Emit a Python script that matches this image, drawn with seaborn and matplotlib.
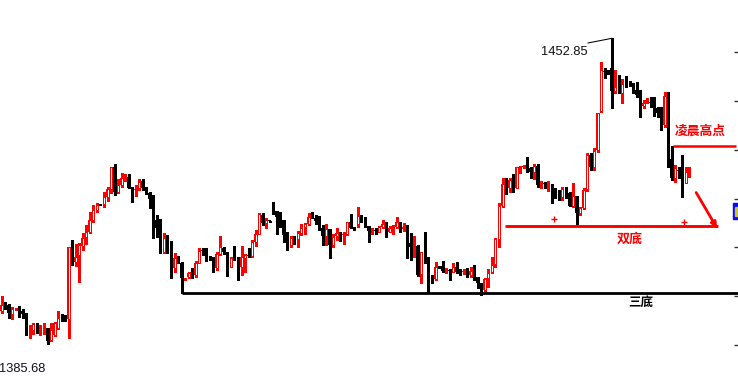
import numpy as np
import pandas as pd
import seaborn as sns
import matplotlib.pyplot as plt
from matplotlib.patches import Rectangle

# candle data (oldest first)
opens = [1393.06, 1394.25, 1394.25, 1392.34, 1393.37, 1394.16, 1393.00, 1392.05, 1388.82, 1388.82,
         1389.92, 1389.04, 1389.04, 1389.33, 1386.63, 1387.66, 1389.33, 1391.39, 1391.17, 1391.17,
         1407.33, 1403.82, 1405.22, 1407.33, 1409.17, 1410.40, 1412.97, 1415.16, 1416.42, 1416.48,
         1418.08, 1419.71, 1424.67, 1419.18, 1420.65, 1422.63, 1422.47, 1419.71, 1419.66, 1419.93,
         1421.60, 1419.77, 1418.83, 1417.58, 1412.97, 1411.15, 1405.88, 1408.95, 1407.70, 1402.37,
         1404.41, 1403.47, 1400.02, 1400.52, 1401.27, 1400.90, 1403.60, 1406.23, 1405.88, 1404.56,
         1404.41, 1402.37, 1405.44, 1406.76, 1405.88, 1402.72, 1404.56, 1404.41, 1402.72, 1404.70,
         1405.07, 1405.07, 1408.14, 1409.90, 1414.07, 1412.25, 1412.75, 1416.42, 1415.01, 1413.69,
         1412.97, 1409.68, 1407.48, 1409.08, 1408.73, 1410.18, 1411.50, 1412.09, 1413.91, 1413.48,
         1412.82, 1411.28, 1409.46, 1411.06, 1407.48, 1409.52, 1410.05, 1409.68, 1409.90, 1412.47,
         1411.28, 1412.09, 1413.91, 1412.82, 1411.65, 1410.56, 1410.56, 1410.40, 1411.37, 1411.72,
         1410.40, 1411.15, 1411.37, 1412.47, 1410.93, 1411.37, 1407.99, 1407.26, 1407.33, 1401.05,
         1406.01, 1404.56, 1400.39, 1400.02, 1402.59, 1402.87, 1401.84, 1401.84, 1401.62, 1402.59,
         1401.62, 1401.62, 1401.78, 1400.90, 1401.78, 1400.52, 1399.08, 1397.60, 1400.17, 1401.62,
         1403.25, 1408.80, 1416.11, 1420.81, 1420.06, 1421.75, 1420.06, 1424.54, 1424.67, 1426.73,
         1424.32, 1423.44, 1424.89, 1420.81, 1420.87, 1420.81, 1420.87, 1419.93, 1418.83, 1418.08,
         1419.93, 1418.83, 1416.11, 1418.30, 1414.44, 1415.54, 1419.71, 1427.24, 1424.54, 1428.33,
         1436.90, 1445.52, 1445.30, 1446.27, 1441.35, 1442.82, 1440.91, 1442.82, 1442.98, 1442.98,
         1441.50, 1441.50, 1437.99, 1438.94, 1438.94, 1438.72, 1437.62, 1436.39, 1433.82, 1440.25,
         1426.29, 1422.12, 1423.79, 1423.35, 1421.16, 1423.35]
highs = [1396.35, 1395.04, 1394.53, 1393.94, 1393.65, 1394.16, 1393.44, 1392.49, 1389.92, 1390.30,
         1390.43, 1389.92, 1390.30, 1389.33, 1390.43, 1390.58, 1393.00, 1392.34, 1392.12, 1407.11,
         1408.58, 1407.64, 1407.86, 1410.05, 1411.87, 1414.79, 1416.26, 1416.64, 1416.53, 1419.18,
         1420.28, 1424.67, 1425.20, 1421.90, 1423.22, 1423.00, 1423.07, 1420.28, 1420.65, 1421.90,
         1421.90, 1420.21, 1419.18, 1418.46, 1414.07, 1413.12, 1410.05, 1409.68, 1408.36, 1405.66,
         1405.07, 1403.82, 1400.13, 1401.62, 1402.37, 1403.97, 1406.76, 1406.76, 1406.76, 1405.07,
         1404.78, 1406.01, 1409.46, 1406.98, 1405.88, 1404.91, 1407.26, 1404.91, 1407.26, 1405.51,
         1406.76, 1408.58, 1410.77, 1414.44, 1414.44, 1413.48, 1412.86, 1416.99, 1415.01, 1414.66,
         1412.97, 1410.40, 1409.52, 1409.46, 1410.62, 1412.03, 1412.38, 1414.44, 1414.79, 1414.07,
         1413.85, 1411.87, 1412.03, 1411.06, 1409.83, 1411.15, 1410.40, 1410.40, 1412.47, 1414.29,
         1411.43, 1415.76, 1414.07, 1413.69, 1411.65, 1411.15, 1411.15, 1411.65, 1412.97, 1412.47,
         1411.72, 1411.87, 1413.56, 1412.60, 1412.25, 1411.87, 1410.05, 1409.46, 1407.50, 1406.01,
         1410.40, 1404.91, 1400.90, 1403.82, 1402.87, 1403.97, 1402.37, 1402.15, 1403.60, 1403.82,
         1402.15, 1402.21, 1402.37, 1402.59, 1403.09, 1400.52, 1399.21, 1400.31, 1402.15, 1404.91,
         1408.95, 1416.64, 1422.12, 1422.12, 1422.26, 1423.00, 1424.54, 1424.89, 1425.04, 1426.73,
         1424.67, 1425.20, 1425.20, 1421.60, 1421.38, 1421.60, 1420.87, 1419.93, 1419.55, 1420.15,
         1420.28, 1419.18, 1421.03, 1418.30, 1415.89, 1419.93, 1427.61, 1427.74, 1428.71, 1436.39,
         1447.72, 1446.27, 1445.90, 1452.85, 1445.90, 1444.80, 1443.85, 1444.64, 1443.48, 1442.98,
         1443.33, 1441.50, 1439.31, 1439.68, 1440.03, 1440.03, 1437.84, 1437.84, 1441.13, 1441.13,
         1429.30, 1425.04, 1424.67, 1427.24, 1424.67, 1424.54]
lows = [1392.49, 1393.37, 1391.53, 1391.17, 1393.11, 1391.74, 1391.39, 1387.66, 1387.00, 1387.88,
        1388.10, 1387.73, 1388.01, 1385.68, 1386.48, 1387.51, 1389.04, 1390.87, 1390.80, 1387.13,
        1403.09, 1402.94, 1399.43, 1406.38, 1407.64, 1410.05, 1412.60, 1414.79, 1416.31, 1415.89,
        1417.21, 1418.83, 1418.46, 1418.83, 1420.28, 1421.60, 1419.93, 1416.99, 1418.24, 1419.55,
        1419.55, 1418.68, 1415.67, 1409.08, 1409.17, 1405.66, 1405.66, 1405.79, 1400.17, 1401.62,
        1403.47, 1396.95, 1399.91, 1400.17, 1400.17, 1400.52, 1403.47, 1405.29, 1404.04, 1404.19,
        1401.62, 1401.99, 1405.29, 1405.44, 1400.74, 1402.59, 1404.19, 1399.80, 1400.90, 1401.62,
        1404.91, 1404.91, 1407.26, 1409.83, 1411.87, 1411.28, 1412.64, 1414.29, 1409.90, 1411.37,
        1408.21, 1406.38, 1407.11, 1407.64, 1407.11, 1409.68, 1409.83, 1411.87, 1413.34, 1412.09,
        1410.77, 1407.48, 1407.48, 1404.70, 1407.11, 1408.58, 1408.43, 1407.64, 1409.68, 1411.15,
        1410.88, 1411.50, 1412.60, 1411.37, 1408.21, 1409.83, 1409.90, 1410.27, 1411.15, 1409.30,
        1410.27, 1409.90, 1411.15, 1410.27, 1410.56, 1404.56, 1404.19, 1404.78, 1400.70, 1399.21,
        1403.47, 1397.01, 1399.21, 1399.80, 1402.33, 1401.62, 1401.27, 1399.80, 1401.49, 1401.27,
        1400.90, 1401.12, 1400.39, 1400.52, 1399.80, 1397.98, 1396.51, 1397.39, 1398.33, 1401.27,
        1402.72, 1407.04, 1415.82, 1418.68, 1419.18, 1419.18, 1419.99, 1423.22, 1424.38, 1423.57,
        1422.12, 1421.90, 1420.28, 1419.93, 1419.99, 1419.40, 1416.64, 1417.73, 1417.36, 1417.36,
        1417.73, 1416.11, 1415.89, 1411.72, 1414.07, 1415.38, 1419.40, 1423.94, 1423.94, 1427.96,
        1436.74, 1444.07, 1445.02, 1437.62, 1440.78, 1440.91, 1438.59, 1442.23, 1442.38, 1440.85,
        1440.03, 1435.51, 1437.49, 1438.59, 1437.84, 1435.80, 1435.64, 1432.73, 1433.45, 1424.67,
        1421.75, 1421.38, 1422.12, 1418.08, 1421.03, 1422.47]
closes = [1394.31, 1394.25, 1392.49, 1393.50, 1393.38, 1391.74, 1392.34, 1388.82, 1389.04, 1390.08,
          1388.67, 1389.05, 1389.20, 1386.48, 1388.82, 1390.43, 1391.53, 1391.39, 1391.17, 1407.11,
          1403.82, 1404.91, 1407.48, 1408.95, 1410.34, 1412.97, 1415.16, 1416.26, 1416.42, 1417.95,
          1419.71, 1424.67, 1419.18, 1420.65, 1422.12, 1422.64, 1420.06, 1419.71, 1419.67, 1421.25,
          1419.93, 1419.05, 1417.58, 1412.97, 1411.15, 1405.79, 1408.95, 1407.86, 1402.37, 1404.56,
          1403.69, 1400.17, 1400.03, 1401.27, 1400.52, 1403.47, 1406.17, 1406.23, 1404.70, 1404.56,
          1402.21, 1405.44, 1406.98, 1406.01, 1402.72, 1404.70, 1404.56, 1402.72, 1404.78, 1405.29,
          1405.07, 1408.14, 1409.83, 1414.22, 1412.25, 1412.97, 1412.75, 1415.01, 1413.69, 1412.97,
          1409.68, 1407.48, 1409.08, 1408.43, 1410.18, 1411.28, 1412.09, 1413.56, 1413.48, 1412.82,
          1411.15, 1409.46, 1411.06, 1407.48, 1409.30, 1410.05, 1409.52, 1409.90, 1412.47, 1411.28,
          1411.06, 1413.85, 1412.82, 1411.65, 1410.62, 1410.57, 1410.56, 1411.37, 1412.03, 1410.62,
          1411.15, 1411.50, 1412.60, 1411.15, 1411.50, 1407.99, 1407.11, 1407.27, 1400.90, 1406.01,
          1404.56, 1400.31, 1399.95, 1402.59, 1402.59, 1401.78, 1401.85, 1401.84, 1402.59, 1401.49,
          1401.62, 1401.63, 1400.52, 1401.78, 1400.02, 1399.21, 1397.60, 1400.02, 1401.40, 1403.09,
          1408.80, 1416.04, 1420.81, 1419.99, 1421.75, 1420.06, 1424.54, 1424.55, 1424.68, 1424.32,
          1423.44, 1424.89, 1420.65, 1420.82, 1420.87, 1420.82, 1420.06, 1418.46, 1417.73, 1419.77,
          1418.08, 1416.11, 1418.24, 1414.44, 1415.54, 1419.55, 1427.24, 1424.54, 1428.12, 1436.39,
          1445.90, 1445.52, 1445.30, 1441.35, 1442.10, 1441.13, 1442.82, 1442.82, 1442.98, 1441.13,
          1440.41, 1437.99, 1438.72, 1438.95, 1438.59, 1437.33, 1436.39, 1433.82, 1440.25, 1426.29,
          1422.12, 1424.32, 1423.79, 1421.16, 1423.57, 1423.36]

# right-hand price grid ticks (labels are cut off in the source)
tick_levels = [1449.85, 1439.09, 1428.33, 1417.58, 1407.04, 1396.29, 1385.53]

# pattern marks
triple_bottom_bar = 51
double_bottom_bar = 163
dawn_high_bar = 190
fractal_x = [156.7, 193.5]
fractal_y = [1413.19, 1412.47]

df = pd.DataFrame({"open": opens, "high": highs, "low": lows, "close": closes})
df["up"] = df["close"] > df["open"]
n = len(df)

sns.set_theme(style="white")
plt.rcParams["font.family"] = ["Liberation Sans", "Noto Sans CJK SC", "DejaVu Sans"]

fig = plt.figure(figsize=(7.38, 3.76), dpi=100)
ax = fig.add_axes([0, 0, 1, 1])

RED = "#ff0000"
up = df[df["up"]]
dn = df[~df["up"]]
ui = up.index.values
di = dn.index.values
px = 0.2195  # one pixel in price units at this size

# wicks
ax.vlines(di, dn["low"], dn["high"], colors="black", lw=0.75, antialiased=False, zorder=1)
ax.vlines(ui, up["low"], up["high"], colors=RED, lw=0.75, antialiased=False, zorder=1)

# black bodies: solid
dn_lo = dn[["open", "close"]].min(axis=1)
ax.bar(di, (dn["open"] - dn["close"]).clip(lower=px * 0.6), width=0.8, bottom=dn_lo,
       color="black", linewidth=0, antialiased=False, zorder=2)
# red bodies: red block with a one-pixel white core -> hollow look
ax.bar(ui, (up["close"] - up["open"]).clip(lower=px * 0.6), width=0.8, bottom=up["open"],
       color=RED, linewidth=0, antialiased=False, zorder=2)
tall = up[(up["close"] - up["open"]) > 2.2 * px]
ax.vlines(tall.index.values, tall["open"] + px, tall["close"] - px, colors="white",
          lw=0.72, antialiased=False, zorder=3)

xmin, xmax = -0.482, 208.76
ax.set_xlim(xmin, xmax)
ax.set_ylim(1378.73, 1461.26)

# high / low labels
hi_i = int(df["high"].idxmax())
hi = df["high"].max()
lo = df["low"].min()
ax.text(hi_i - 20.1, hi - 3.0, f"{hi:.2f}", fontsize=9.3, color="#111111",
        ha="left", va="center", family="Liberation Sans")
ax.plot([hi_i - 6.8, hi_i], [hi - 1.03, hi], color="black", lw=0.75)
ax.text(-0.77, lo - 5.5, f"{lo:.2f}", fontsize=9.3, color="#10101c",
        ha="left", va="center", family="Liberation Sans")

# triple bottom (black)
tb = df["low"][triple_bottom_bar]
ax.plot([triple_bottom_bar, xmax], [tb, tb], color="black", lw=2.0, solid_capstyle="butt", zorder=4)
ax.text(181.1, tb - 2.1, "三底", fontsize=9, color="black", fontweight="bold",
        ha="center", va="center", family=["Noto Sans CJK SC", "DejaVu Sans"])

# double bottom (red)
db = df["low"][double_bottom_bar]
ax.plot([142.7, 203.1], [db, db], color=RED, lw=2.1, solid_capstyle="butt", zorder=4)
ax.text(178.1, db - 2.9, "双底", fontsize=9.4, color=RED, fontweight="bold",
        ha="center", va="center", family=["Noto Sans CJK SC", "DejaVu Sans"])

# early-morning high (red)
dh = df["high"][dawn_high_bar]
ax.plot([190.4, 208.1], [dh, dh], color=RED, lw=1.8, solid_capstyle="butt", zorder=4)
ax.text(198.1, dh + 3.1, "凌晨高点", fontsize=9.2, color=RED, fontweight="bold",
        ha="center", va="center", family=["Noto Sans CJK SC", "DejaVu Sans"])

# arrow pointing down to the double bottom line
ax.annotate("", xy=(202.8, 1411.2), xytext=(196.9, 1419.0),
            arrowprops=dict(arrowstyle="-|>", color=RED, lw=2.0, mutation_scale=8,
                            shrinkA=0, shrinkB=0))

ax.plot(fractal_x, fractal_y, "+", color=RED, ms=4, mew=1)

# cut-off current-price box on the right edge
ax.add_patch(Rectangle((207.4, 1413.19), xmax - 207.4, 3.45, color="#0a0af0", zorder=5))
ax.add_patch(Rectangle((208.0, 1413.9), 0.5, 2.0, color="#c8c832", zorder=6))

# axis styling
ax.yaxis.tick_right()
ax.set_yticks(tick_levels)
ax.tick_params(axis="y", direction="in", length=3, width=1, colors="#333333",
               labelright=False, labelleft=False)
ax.set_xticks([])
ax.grid(False)
sns.despine(ax=ax, left=True, bottom=True, right=True, top=True)

fig.savefig("out.png", dpi=100)
